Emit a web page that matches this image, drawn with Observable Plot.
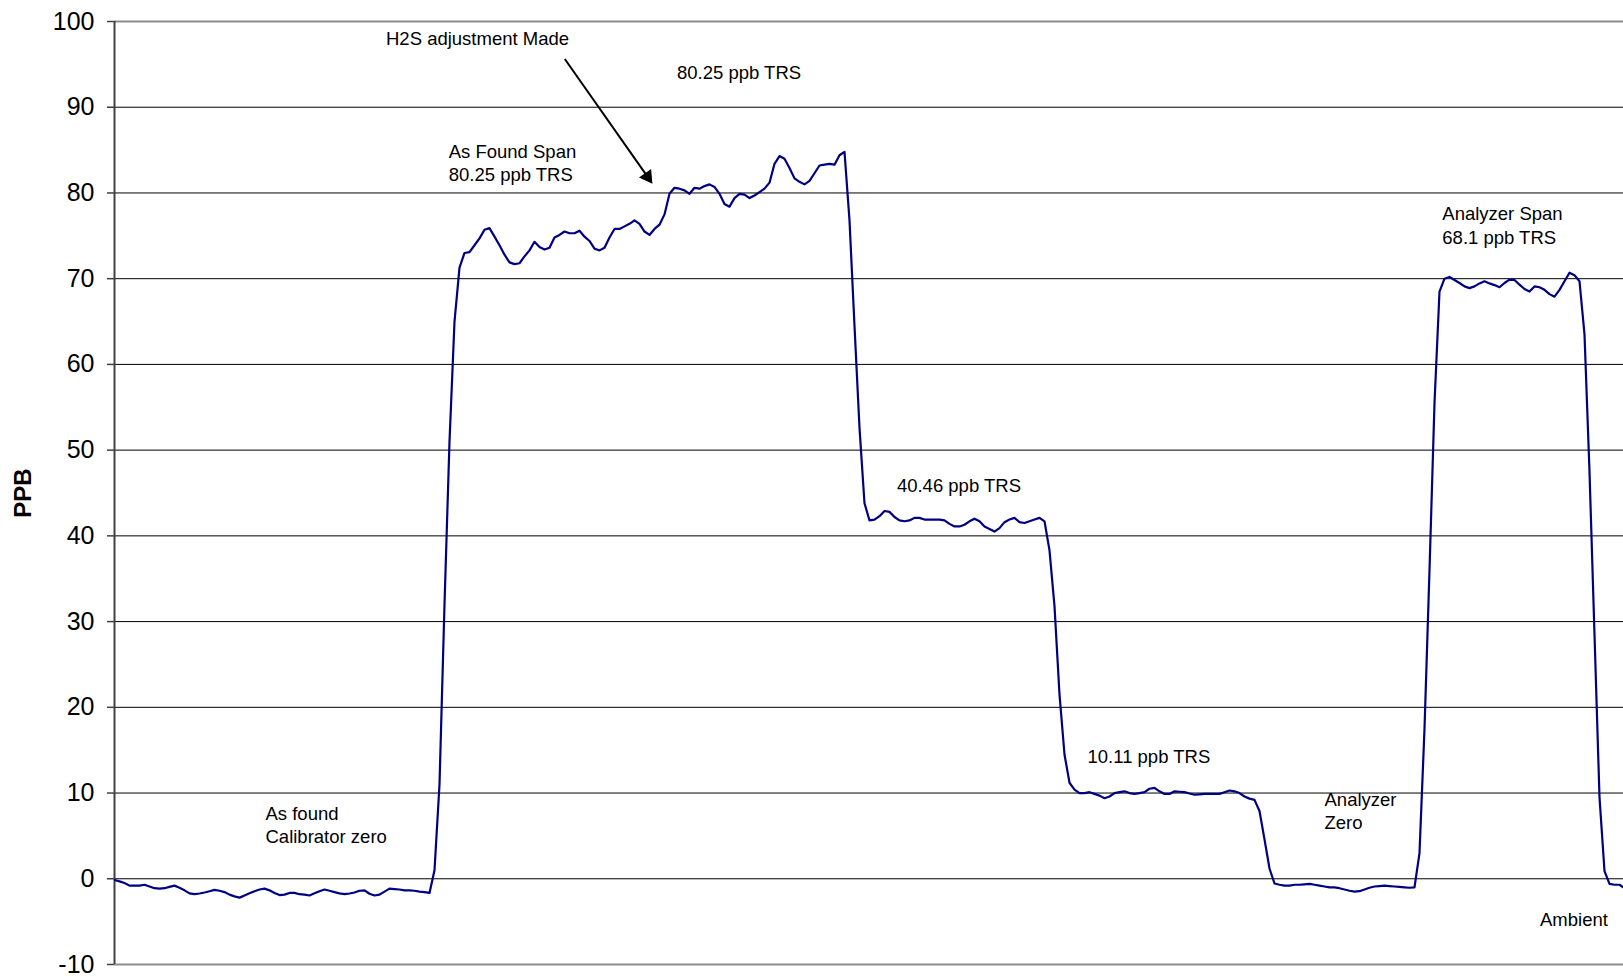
<!DOCTYPE html>
<html>
<head>
<meta charset="utf-8">
<script src="https://cdn.jsdelivr.net/npm/d3@7"></script>
<script src="https://cdn.jsdelivr.net/npm/@observablehq/plot@0.6"></script>
<style>
html, body { margin: 0; padding: 0; background: #fff; overflow: hidden; }
#chart svg { display: block; }
</style>
</head>
<body>
<div id="chart"></div>
<script>
// PPB readings, one per sample, grouped by phase of the calibration run
const asFoundZero = [
  -0.15, -0.3, -0.5, -0.8, -0.8, -0.8, -0.7, -0.9, -1.1, -1.15,
  -1.1, -0.95, -0.8, -1.05, -1.35, -1.7, -1.8, -1.72, -1.6, -1.45,
  -1.3, -1.4, -1.55, -1.85, -2.05, -2.2, -1.95, -1.7, -1.45, -1.25,
  -1.15, -1.35, -1.65, -1.9, -1.85, -1.65, -1.65, -1.8, -1.85, -1.95,
  -1.7, -1.45, -1.25, -1.4, -1.55, -1.7, -1.8, -1.72, -1.6, -1.4,
  -1.35, -1.75, -1.95, -1.85, -1.5, -1.15, -1.2, -1.25, -1.35, -1.35,
  -1.4, -1.5, -1.55, -1.65
];
const asFoundSpan = [
  1.0, 11, 32, 51, 65, 71.3, 73.0, 73.1, 73.9, 74.7,
  75.7, 75.9, 74.9, 73.9, 72.8, 71.9, 71.7, 71.8, 72.6, 73.3,
  74.3, 73.7, 73.4, 73.6, 74.8, 75.1, 75.5, 75.3, 75.3, 75.6,
  74.9, 74.4, 73.5, 73.3, 73.6, 74.8, 75.8, 75.8, 76.1, 76.4,
  76.8, 76.4, 75.5, 75.1, 75.8, 76.3, 77.5, 79.9, 80.6, 80.5,
  80.3, 79.9, 80.6, 80.5, 80.8, 81.0, 80.7, 79.9, 78.7, 78.4,
  79.4, 79.9, 79.8, 79.4, 79.7, 80.1, 80.5, 81.2, 83.4, 84.3,
  84.0, 82.9, 81.7, 81.3, 81.0, 81.4, 82.3, 83.2, 83.3, 83.4,
  83.3, 84.4, 84.8, 76.8, 64.5
];
const level40 = [
  52.6, 43.8, 41.8, 41.9, 42.3, 42.9, 42.8, 42.2, 41.8, 41.7,
  41.8, 42.1, 42.1, 41.9, 41.9, 41.9, 41.9, 41.8, 41.4, 41.1,
  41.1, 41.3, 41.7, 42.0, 41.7, 41.1, 40.8, 40.5, 40.9, 41.6,
  41.9, 42.1, 41.6, 41.5, 41.7, 41.9, 42.1, 41.7, 38.3, 31.8
];
const level10 = [
  21.5, 14.5, 11.2, 10.4, 10.0, 10.0, 10.1, 9.9, 9.7, 9.4,
  9.6, 10.0, 10.1, 10.2, 10.0, 9.9, 10.0, 10.1, 10.5, 10.6,
  10.2, 9.9, 9.9, 10.2, 10.15, 10.1, 9.95, 9.8, 9.85, 9.9,
  9.9, 9.9, 9.9, 10.1, 10.3, 10.2, 10.0, 9.6, 9.35, 9.2,
  7.9, 4.6
];
const analyzerZero = [
  1.2, -0.55, -0.7, -0.8, -0.8, -0.7, -0.7, -0.65, -0.6, -0.7,
  -0.8, -0.9, -1.0, -1.0, -1.1, -1.25, -1.4, -1.5, -1.45, -1.25,
  -1.05, -0.9, -0.85, -0.8, -0.85, -0.9, -0.95, -1.0, -1.05, -1.0,
  3.0
];
const analyzerSpan = [
  17.5, 36, 55.5, 68.5, 70.0, 70.2, 69.85, 69.5, 69.1, 68.9,
  69.1, 69.45, 69.7, 69.45, 69.25, 69.0, 69.5, 69.9, 69.85, 69.3,
  68.8, 68.5, 69.1, 69.0, 68.7, 68.2, 67.9, 68.7, 69.7, 70.7,
  70.4, 69.7, 63.5, 47.5, 28.5
];
const ambient = [9.5, 0.9, -0.6, -0.7, -0.7, -1.1];

const yTicks = [-10, 0, 10, 20, 30, 40, 50, 60, 70, 80, 90, 100];

// Annotations in data units (sample index, ppb)
const annotations = [
  {t: 54.3, v: 98.18, label: "H2S adjustment Made"},
  {t: 112.5, v: 94.19, label: "80.25 ppb TRS"},
  {t: 66.84, v: 83.59, label: "As Found Span\n80.25 ppb TRS"},
  {t: 265.56, v: 76.3, label: "Analyzer Span\n68.1 ppb TRS"},
  {t: 156.48, v: 45.96, label: "40.46 ppb TRS"},
  {t: 194.6, v: 14.41, label: "10.11 ppb TRS"},
  {t: 242.0, v: 8.0, label: "Analyzer\nZero"},
  {t: 30.2, v: 6.38, label: "As found\nCalibrator zero"},
  {t: 285.1, v: -4.58, label: "Ambient"}
];
const arrowStart = {t: 90.06, v: 95.62};
const arrowHead = {t: 106.6, v: 81.9};

const ppb = [].concat(asFoundZero, asFoundSpan, level40, level10, analyzerZero, analyzerSpan, ambient);
const series = ppb.map((v, i) => ({t: i, v}));

const chart = Plot.plot({
  width: 1623,
  height: 977,
  marginLeft: 114,
  marginRight: 0,
  marginTop: 21,
  marginBottom: 13,
  style: {fontFamily: "'Liberation Sans', Arial, sans-serif", background: "#fff", color: "#000"},
  x: {domain: [0, 301.8], axis: null},
  y: {domain: [-10, 100]},
  marks: [
    Plot.ruleY(yTicks.filter(d => d > -10 && d < 100), {stroke: "#000", strokeWidth: 1}),
    Plot.ruleY([100], {stroke: "#8c8c8c", strokeWidth: 2}),
    Plot.ruleY([-10], {stroke: "#8c8c8c", strokeWidth: 2}),
    Plot.axisY({ticks: yTicks, tickSize: 7, tickPadding: 13, tickFormat: d => String(d),
      fontSize: 25, stroke: "#404040", strokeWidth: 1.5, label: null}),
    Plot.ruleX([0], {stroke: "#404040", strokeWidth: 2}),
    Plot.text(["PPB"], {frameAnchor: "left", dx: -91, rotate: -90, textAnchor: "middle",
      fontSize: 24, fontWeight: "bold", fill: "#000"}),
    Plot.line(series, {x: "t", y: "v", stroke: "#000080", strokeWidth: 2.2, clip: true}),
    Plot.link([{a: arrowStart, b: arrowHead}], {
      x1: d => d.a.t, y1: d => d.a.v, x2: d => d.b.t, y2: d => d.b.v,
      stroke: "#000", strokeWidth: 2
    }),
    Plot.dot([arrowHead], {x: "t", y: "v", symbol: "triangle", r: 5.5, fill: "#000", stroke: "none", rotate: 145}),
    Plot.text(annotations, {x: "t", y: "v", text: "label", textAnchor: "start",
      fontSize: 18.5, lineHeight: 1.27, fill: "#000"})
  ]
});
document.getElementById("chart").appendChild(chart);
</script>
</body>
</html>
